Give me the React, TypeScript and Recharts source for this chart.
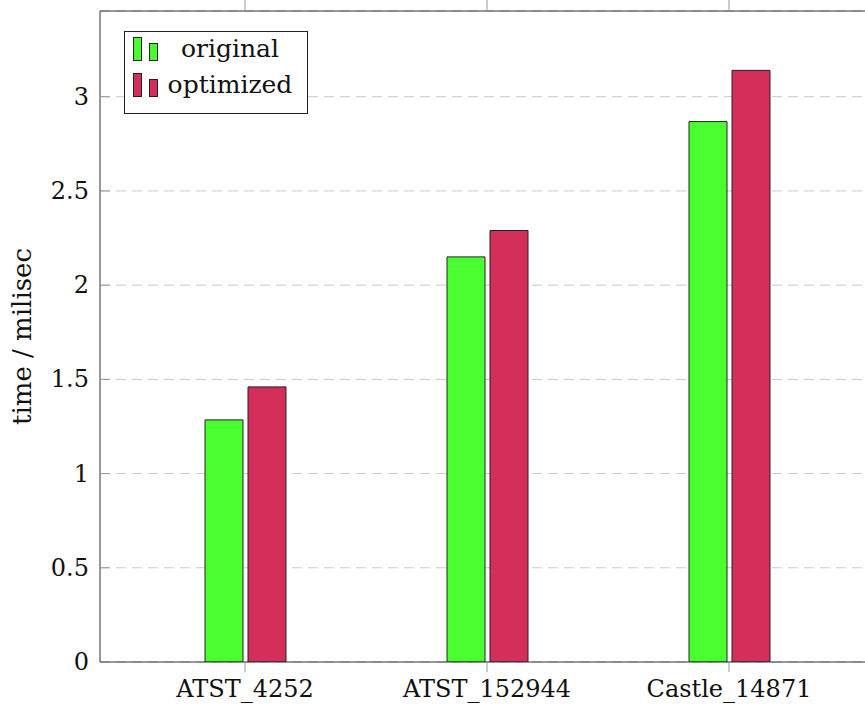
import React from "react";
import {
  BarChart,
  Bar,
  XAxis,
  YAxis,
  CartesianGrid,
  Legend,
  Label,
} from "recharts";

const categories = ["ATST_4252", "ATST_152944", "Castle_14871"];
const original = [1.285, 2.15, 2.868];
const optimized = [1.46, 2.29, 3.14];
const yTicks = [0, 0.5, 1, 1.5, 2, 2.5, 3];

const GREEN = "#4aff2f";
const RED = "#d42f5a";
const FONT = "'DejaVu Serif', serif";

const data = categories.map((name, i) => ({
  name,
  original: original[i],
  optimized: optimized[i],
}));

const YTick = (props: any) => {
  const { x, y, payload } = props;
  return (
    <g>
      {payload.value !== 0 && (
        <line x1={x + 11} x2={x + 21} y1={y} y2={y} stroke="#999" />
      )}
      <text
        x={x}
        y={y}
        textAnchor="end"
        dominantBaseline="central"
        fontFamily={FONT}
        fontSize={24}
        fill="#111"
      >
        {payload.value}
      </text>
    </g>
  );
};

const LegendIcon = ({ color }: { color: string }) => (
  <svg width={26} height={24} style={{ display: "block" }}>
    <rect x={0.5} y={0.5} width={8} height={23} fill={color} stroke="#222" />
    <rect x={16.5} y={6.5} width={8} height={17} fill={color} stroke="#222" />
  </svg>
);

const LegendBox = () => (
  <div
    style={{
      border: "1px solid #222",
      background: "#fff",
      width: 182,
      height: 81,
      boxSizing: "content-box",
      fontFamily: FONT,
      fontSize: 25,
      color: "#111",
    }}
  >
    {[
      { label: "original", color: GREEN },
      { label: "optimized", color: RED },
    ].map((e, i) => (
      <div
        key={e.label}
        style={{
          display: "flex",
          alignItems: "flex-end",
          height: 24,
          marginTop: i === 0 ? 5 : 12,
          marginLeft: 8,
        }}
      >
        <LegendIcon color={e.color} />
        <div
          style={{
            flex: 1,
            textAlign: "center",
            lineHeight: "24px",
            marginRight: 6,
            whiteSpace: "nowrap",
          }}
        >
          {e.label}
        </div>
      </div>
    ))}
  </div>
);

export default function App() {
  return (
    <div
      style={{
        position: "absolute",
        left: 0,
        top: 0,
        width: 865,
        height: 715,
        overflow: "hidden",
        background: "#fff",
      }}
    >
      <BarChart
        width={880}
        height={715}
        data={data}
        margin={{ top: 10, right: 6, left: 0, bottom: 0 }}
        barSize={38}
        barGap={5}
      >
        <CartesianGrid
          vertical={false}
          stroke="#c8c8c8"
          strokeDasharray="10 6"
        />
        <XAxis
          dataKey="name"
          height={53}
          padding={{ left: 24, right: 24 }}
          axisLine={{ stroke: "#333" }}
          tickLine={{ stroke: "#999" }}
          tickSize={10}
          tickMargin={8}
          tick={{ fontFamily: FONT, fontSize: 24, fill: "#111" }}
        />
        <XAxis
          xAxisId="top"
          dataKey="name"
          orientation="top"
          height={1}
          padding={{ left: 24, right: 24 }}
          axisLine={{ stroke: "#333" }}
          tickLine={{ stroke: "#999" }}
          tickSize={11}
          tick={() => <g />}
        />
        <YAxis
          width={100}
          domain={[0, 3.455]}
          ticks={yTicks}
          axisLine={{ stroke: "#333" }}
          tickLine={false}
          tickSize={0}
          tickMargin={11}
          tick={<YTick />}
          allowDataOverflow
        >
          <Label
            value="time / milisec"
            angle={-90}
            position="insideLeft"
            offset={22}
            style={{
              textAnchor: "middle",
              fontFamily: FONT,
              fontSize: 26,
              fill: "#111",
            }}
          />
        </YAxis>
        <Legend
          layout="vertical"
          align="center"
          verticalAlign="middle"
          wrapperStyle={{ left: 124, top: 31, width: 184 }}
          content={() => <LegendBox />}
        />
        <Bar
          dataKey="original"
          fill={GREEN}
          stroke="#222"
          isAnimationActive={false}
        />
        <Bar
          dataKey="optimized"
          fill={RED}
          stroke="#222"
          isAnimationActive={false}
        />
      </BarChart>
    </div>
  );
}
